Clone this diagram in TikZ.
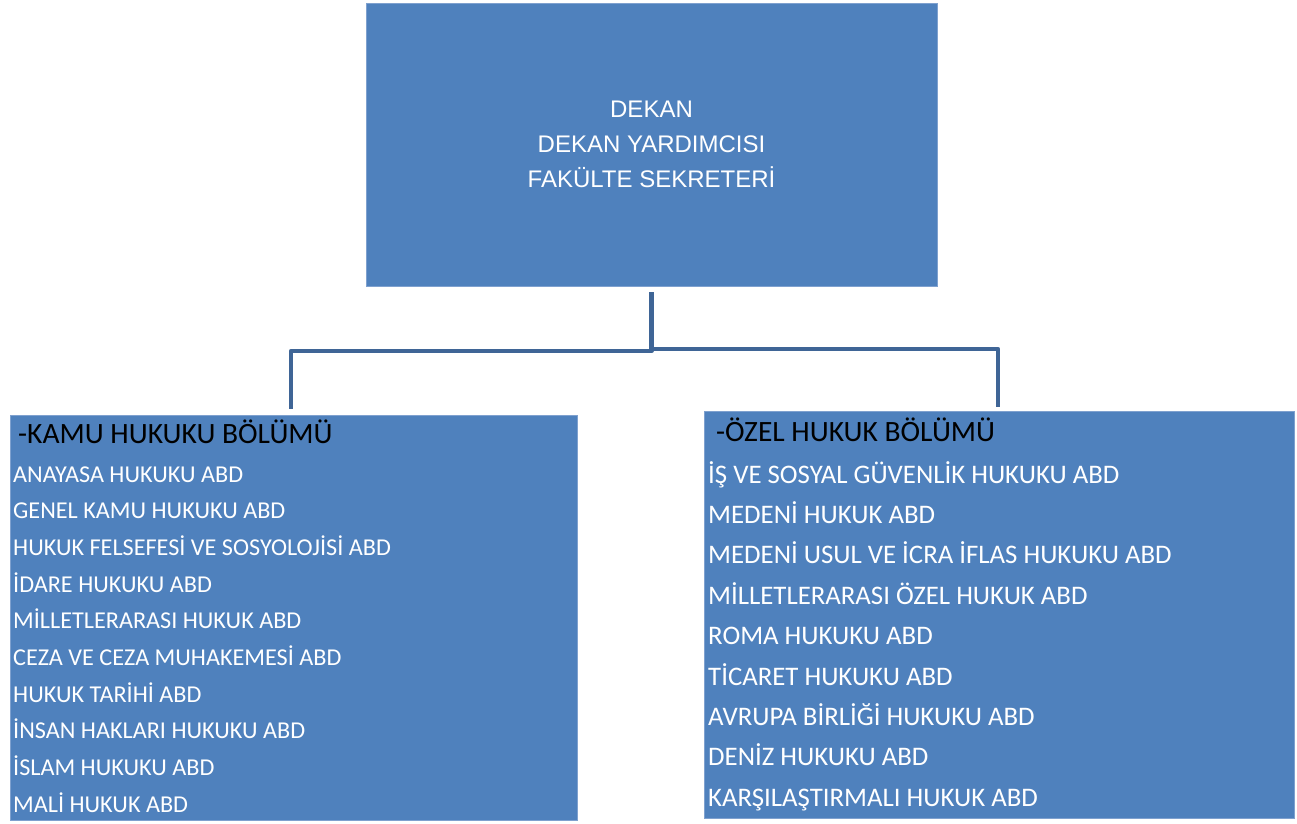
\documentclass[tikz,border=0pt]{standalone}
\usepackage{fontspec}
\setmainfont{Liberation Sans}
\newfontfamily\calib{Carlito}
\definecolor{boxblue}{HTML}{4F81BD}
\definecolor{boxedge}{HTML}{7FA1CF}
\definecolor{connblue}{HTML}{3F6596}
\tikzset{
  panel/.style={fill=boxblue, draw=boxedge, line width=0.8pt, inner sep=0pt},
  conn/.style={draw=connblue, line width=4.5pt, line join=round},
  headtxt/.style={anchor=base west, inner sep=0pt, text=black, font=\calib\fontsize{29.5}{34}\selectfont},
  ltxt/.style={anchor=base west, inner sep=0pt, text=white, font=\calib\fontsize{24.2}{28}\selectfont},
  rtxt/.style={anchor=base west, inner sep=0pt, text=white, font=\calib\fontsize{26.8}{30}\selectfont},
}
\begin{document}
\begin{tikzpicture}[x=1pt,y=1pt]
\useasboundingbox (0,0) rectangle (1297,-823);
% top box
\node[panel, minimum width=571pt, minimum height=283pt, text=white, align=center,
      font=\fontsize{24}{35}\selectfont] (top) at (651.5,-144.5)
  {DEKAN\\DEKAN YARDIMCISI\\FAKÜLTE SEKRETERİ};
% department boxes
\node[panel, minimum width=567pt, minimum height=405pt] (kamu) at (293.5,-617.5) {};
\node[panel, minimum width=590pt, minimum height=407pt] (ozel) at (999,-614.5) {};
% headings
\node[headtxt] (kh) at (18,-443) {-KAMU HUKUKU BÖLÜMÜ};
\node[headtxt] (oh) at (716,-441) {-ÖZEL HUKUK BÖLÜMÜ};
% left list
\foreach \t [count=\i from 0] in {ANAYASA HUKUKU ABD, GENEL KAMU HUKUKU ABD,
  HUKUK FELSEFESİ VE SOSYOLOJİSİ ABD, İDARE HUKUKU ABD, MİLLETLERARASI HUKUK ABD,
  CEZA VE CEZA MUHAKEMESİ ABD, HUKUK TARİHİ ABD, İNSAN HAKLARI HUKUKU ABD,
  İSLAM HUKUKU ABD, MALİ HUKUK ABD}
  \node[ltxt] (l\i) at (13,{-482-36.67*\i}) {\t};
% right list
\foreach \t [count=\i from 0] in {İŞ VE SOSYAL GÜVENLİK HUKUKU ABD, MEDENİ HUKUK ABD,
  MEDENİ USUL VE İCRA İFLAS HUKUKU ABD, MİLLETLERARASI ÖZEL HUKUK ABD,
  ROMA HUKUKU ABD, TİCARET HUKUKU ABD, AVRUPA BİRLİĞİ HUKUKU ABD,
  DENİZ HUKUKU ABD, KARŞILAŞTIRMALI HUKUK ABD}
  \node[rtxt] (r\i) at (708,{-483-40.4*\i}) {\t};
% connectors
\coordinate (j) at ([yshift=-6pt]top.south);
\coordinate (ke) at ([xshift=-2.5pt,yshift=6pt]kamu.north);
\coordinate (oe) at ([xshift=-1pt,yshift=4pt]ozel.north);
\draw[conn] (j) -- (j |- 0,-351) -| (ke);
\draw[conn] (j) -- (j |- 0,-349) -| (oe);
\end{tikzpicture}
\end{document}
